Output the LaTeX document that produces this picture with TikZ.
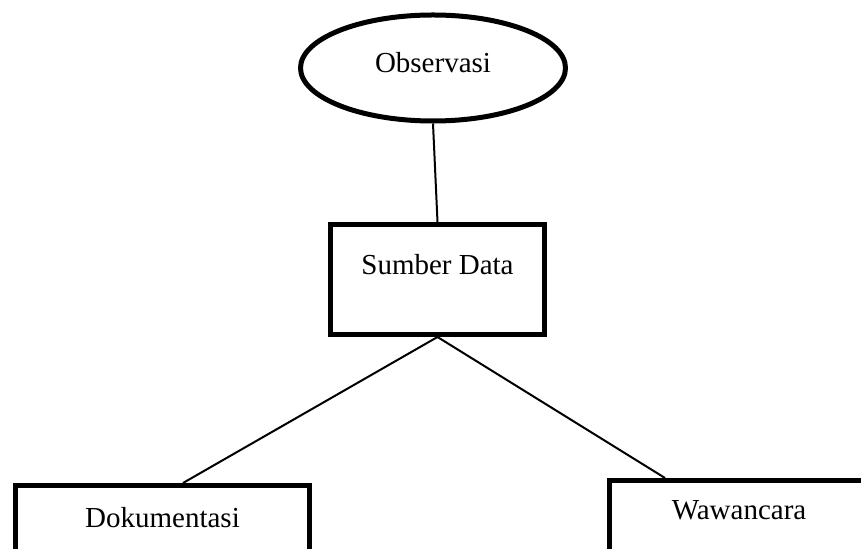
\documentclass[tikz,border=0pt]{standalone}
\usepackage{fontspec}
\setmainfont{Liberation Serif}
\usetikzlibrary{shapes.geometric}

\begin{document}
\begin{tikzpicture}[x=0.5pt,y=-0.5pt,
		box/.style={draw,line width=2.5pt,rectangle,font=\fontsize{14.5}{17}\selectfont},
		oval/.style={draw,line width=2.5pt,ellipse,font=\fontsize{14.5}{17}\selectfont},
		link/.style={line width=1pt}]
		
		\useasboundingbox (0,0) rectangle (861,549);
		\clip (0,0) rectangle (861,549);
		
		% Ellipse (Observasi)
		\node[oval, minimum width=132.5pt, minimum height=53pt, text depth=5.5pt] (obs) at (433,68) {Observasi};
		
		% Box (Sumber Data)
		\node[box, minimum width=107pt, minimum height=55pt, text depth=15pt] (sumber) at (437.5,279.5) {Sumber Data};
		
		% Box (Dokumentasi), cut off at the bottom
		\node[box, minimum width=147pt, minimum height=55pt, text depth=23.5pt] (doku) at (162.5,540.5) {Dokumentasi};
		
		% Box (Wawancara), cut off at the bottom and right
		\node[box, minimum width=129.5pt, minimum height=55pt, text depth=25.5pt] (waw) at (739,535.5) {Wawancara};
		
		% Lines
		\draw[link] (obs.south) -- (sumber.north);
		\draw[link] (sumber.south) -- ([xshift=85pt]doku.north west);
		\draw[link] (sumber.south) -- ([xshift=29pt]waw.north west);
	\end{tikzpicture}
\end{document}
